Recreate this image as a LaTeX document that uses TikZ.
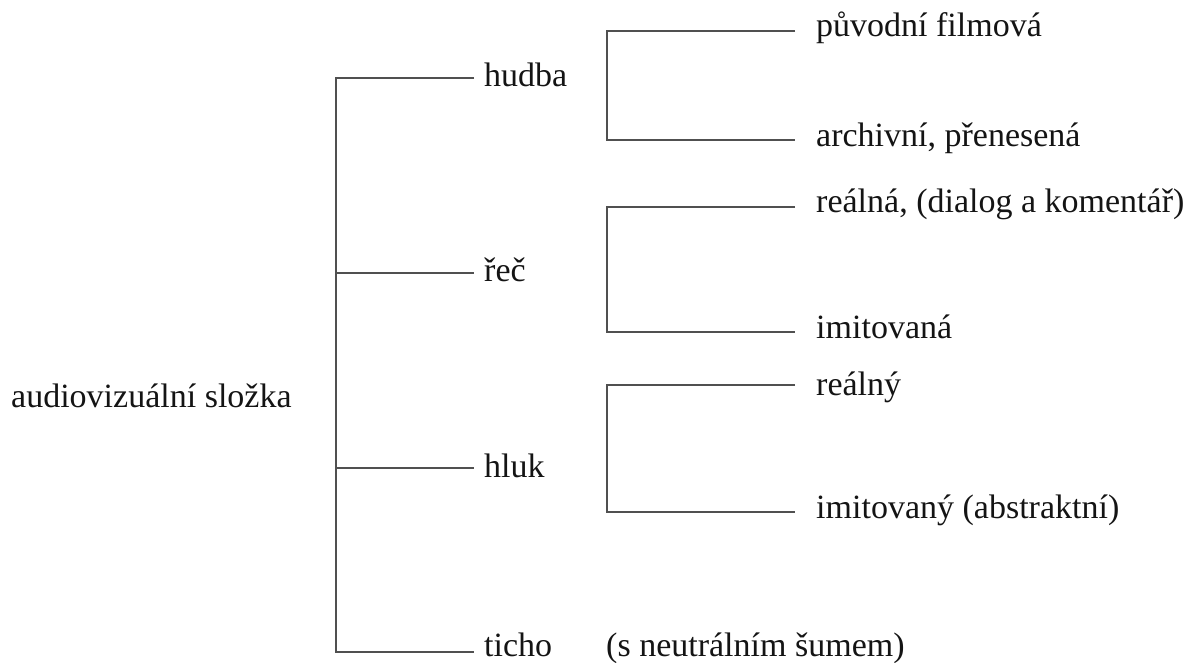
\documentclass[tikz,border=0pt]{standalone}
\usepackage{fontspec}
\setmainfont{Liberation Serif}
\begin{document}
\begin{tikzpicture}[x=1pt,y=-1pt,
  link/.style={draw={rgb,255:red,80;green,80;blue,80},line width=2.4pt},
  lbl/.style={anchor=base west,inner sep=0pt,font=\fontsize{34}{40}\selectfont,text={rgb,255:red,20;green,20;blue,20}}]
\useasboundingbox (0,0) rectangle (1192,663);

% root
\node[lbl] (root) at (11,407) {audiovizuální složka};

% first level
\coordinate (sTop) at (336,78);
\coordinate (sRec) at (336,273);
\coordinate (sHluk) at (336,468);
\coordinate (sBot) at (336,652);
\coordinate (eHudba) at (474,78);
\coordinate (eRec) at (474,273);
\coordinate (eHluk) at (474,468);
\coordinate (eTicho) at (474,652);
\node[lbl] (hudba) at (484,87) {hudba};
\node[lbl] (rec) at (484,282) {řeč};
\node[lbl] (hluk) at (484,477) {hluk};
\node[lbl] (ticho) at (484,656) {ticho};
\draw[link] (eHudba) -- (sTop) -- (sBot) -- (eTicho);
\draw[link] (sRec) -- (eRec);
\draw[link] (sHluk) -- (eHluk);

% second level: hudba
\coordinate (a1) at (607,31);
\coordinate (a2) at (607,140);
\coordinate (ea1) at (795,31);
\coordinate (ea2) at (795,140);
\node[lbl] (puvodni) at (816,37) {původní filmová};
\node[lbl] (archivni) at (816,147) {archivní, přenesená};
\draw[link] (ea1) -- (a1) -- (a2) -- (ea2);

% second level: řeč
\coordinate (b1) at (607,207);
\coordinate (b2) at (607,332);
\coordinate (eb1) at (795,207);
\coordinate (eb2) at (795,332);
\node[lbl] (realna) at (816,213) {reálná, (dialog a komentář)};
\node[lbl] (imitovana) at (816,338) {imitovaná};
\draw[link] (eb1) -- (b1) -- (b2) -- (eb2);

% second level: hluk
\coordinate (c1) at (607,385);
\coordinate (c2) at (607,512);
\coordinate (ec1) at (795,385);
\coordinate (ec2) at (795,512);
\node[lbl] (realny) at (816,395) {reálný};
\node[lbl] (imitovany) at (816,518) {imitovaný (abstraktní)};
\draw[link] (ec1) -- (c1) -- (c2) -- (ec2);

% ticho note
\node[lbl] (sum) at (606,656) {(s neutrálním šumem)};
\end{tikzpicture}
\end{document}
